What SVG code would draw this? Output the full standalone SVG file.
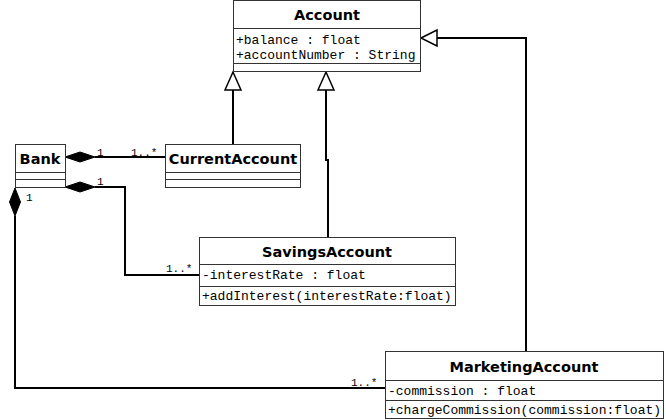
<svg xmlns="http://www.w3.org/2000/svg" width="666" height="420" viewBox="0 0 666 420">
<style>
.box{fill:#fff;stroke:#333;stroke-width:1}
.sep{stroke:#333;stroke-width:1}
.title{font-family:"DejaVu Sans",sans-serif;font-weight:bold;font-size:14.5px;text-anchor:middle;fill:#000}
.mem{font-family:"Liberation Mono",monospace;font-size:13px;fill:#000}
.lbl{font-family:"Liberation Mono",monospace;font-size:11px;fill:#000}
.con{fill:none;stroke:#000;stroke-width:2}
.tri{fill:#fff;stroke:#000;stroke-width:1.5}
.dia{fill:#000;stroke:#000;stroke-width:1}
</style>
<rect width="666" height="420" fill="#fff"/>
<g id="connectors">
  <polyline class="con" points="233,90 233,144"/>
  <polyline class="con" points="326,90 326,160 328,160 328,237"/>
  <polyline class="con" points="437,38 526,38 526,351"/>
  <polyline class="con" points="95,157 165,157"/>
  <polyline class="con" points="95,187 125,187 125,275 200,275"/>
  <polyline class="con" points="15,216 15,388 386,388"/>
  <polygon class="tri" points="233,72 225,90 241,90"/>
  <polygon class="tri" points="326,72 318,90 334,90"/>
  <polygon class="tri" points="421,38 437,30 437,46"/>
  <polygon class="dia" points="65,157 80,152 95,157 80,162"/>
  <polygon class="dia" points="65,187 80,182 95,187 80,192"/>
  <polygon class="dia" points="15,188 9.5,202 15,216 20.5,202"/>
  <text class="lbl" x="97" y="156">1</text>
  <text class="lbl" x="131" y="156">1..*</text>
  <text class="lbl" x="97" y="185">1</text>
  <text class="lbl" x="26" y="201">1</text>
  <text class="lbl" x="166" y="272">1..*</text>
  <text class="lbl" x="351" y="386">1..*</text>
</g>
<g id="Account">
  <rect class="box" x="233.5" y="0.5" width="187" height="71"/>
  <line class="sep" x1="233.5" y1="28.5" x2="420.5" y2="28.5"/>
  <line class="sep" x1="233.5" y1="63.5" x2="420.5" y2="63.5"/>
  <text class="title" x="327" y="20">Account</text>
  <text class="mem" x="236" y="44">+balance : float</text>
  <text class="mem" x="236" y="59">+accountNumber : String</text>
</g>
<g id="Bank">
  <rect class="box" x="15.5" y="144.5" width="50" height="43"/>
  <line class="sep" x1="15.5" y1="172.5" x2="65.5" y2="172.5"/>
  <line class="sep" x1="15.5" y1="179.5" x2="65.5" y2="179.5"/>
  <text class="title" x="40" y="164">Bank</text>
</g>
<g id="CurrentAccount">
  <rect class="box" x="165.5" y="144.5" width="135" height="43"/>
  <line class="sep" x1="165.5" y1="172.5" x2="300.5" y2="172.5"/>
  <line class="sep" x1="165.5" y1="179.5" x2="300.5" y2="179.5"/>
  <text class="title" x="233" y="164">CurrentAccount</text>
</g>
<g id="SavingsAccount">
  <rect class="box" x="199.5" y="237.5" width="256" height="68"/>
  <line class="sep" x1="199.5" y1="264.5" x2="455.5" y2="264.5"/>
  <line class="sep" x1="199.5" y1="286.5" x2="455.5" y2="286.5"/>
  <text class="title" x="327" y="257">SavingsAccount</text>
  <text class="mem" x="202" y="279">-interestRate : float</text>
  <text class="mem" x="202" y="300">+addInterest(interestRate:float)</text>
</g>
<g id="MarketingAccount">
  <rect class="box" x="385.5" y="351.5" width="278" height="67"/>
  <line class="sep" x1="385.5" y1="380.5" x2="663.5" y2="380.5"/>
  <line class="sep" x1="385.5" y1="400.5" x2="663.5" y2="400.5"/>
  <text class="title" x="524" y="372">MarketingAccount</text>
  <text class="mem" x="388" y="395">-commission : float</text>
  <text class="mem" x="388" y="414">+chargeCommission(commission:float)</text>
</g>
</svg>
